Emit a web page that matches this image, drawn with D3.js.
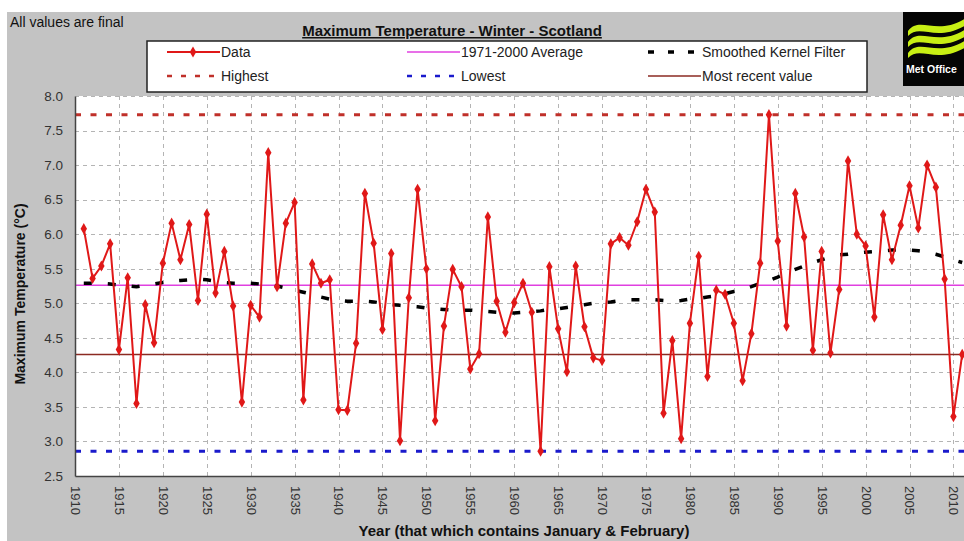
<!DOCTYPE html>
<html>
<head>
<meta charset="utf-8">
<script src="https://cdn.jsdelivr.net/npm/d3@7"></script>
<style>
  html, body { margin: 0; padding: 0; background: #ffffff; }
  svg { display: block; font-family: "Liberation Sans", Arial, sans-serif; }
</style>
</head>
<body>
<svg id="chart" width="964" height="541"></svg>
<script>
// Winter (Dec–Feb) maximum temperature, Scotland, °C — year containing Jan & Feb
const years = d3.range(1911, 2012);
const values = [
  6.08, 5.36, 5.54, 5.86, 4.33, 5.37, 3.55, 4.98, 4.43, 5.58,
  6.16, 5.63, 6.14, 5.04, 6.29, 5.15, 5.75, 4.96, 3.57, 4.97,
  4.80, 7.18, 5.24, 6.16, 6.46, 3.60, 5.57, 5.29, 5.34, 3.46,
  3.45, 4.42, 6.59, 5.87, 4.62, 5.72, 3.01, 5.08, 6.65, 5.50,
  3.30, 4.67, 5.49, 5.24, 4.05, 4.27, 6.25, 5.03, 4.58, 5.01,
  5.29, 4.87, 2.86, 5.53, 4.63, 4.01, 5.54, 4.66, 4.21, 4.17,
  5.86, 5.95, 5.84, 6.18, 6.65, 6.32, 3.41, 4.46, 3.04, 4.71,
  5.68, 3.94, 5.19, 5.13, 4.71, 3.88, 4.56, 5.58, 7.73, 5.90,
  4.67, 6.59, 5.96, 4.32, 5.75, 4.28, 5.20, 7.06, 6.00, 5.83,
  4.80, 6.28, 5.63, 6.13, 6.70, 6.09, 7.00, 6.68, 5.35, 3.36,
  4.26
];
// Smoothed kernel filter curve
const smoothed = [
  5.29, 5.29, 5.29, 5.28, 5.26, 5.25, 5.24, 5.26, 5.28, 5.30,
  5.32, 5.33, 5.34, 5.35, 5.34, 5.32, 5.30, 5.29, 5.29, 5.29,
  5.28, 5.27, 5.25, 5.22, 5.19, 5.16, 5.13, 5.09, 5.06, 5.04,
  5.03, 5.03, 5.03, 5.02, 5.00, 4.98, 4.97, 4.96, 4.95, 4.93,
  4.92, 4.91, 4.90, 4.90, 4.90, 4.89, 4.88, 4.87, 4.86, 4.86,
  4.87, 4.88, 4.89, 4.91, 4.92, 4.94, 4.96, 4.98, 5.00, 5.01,
  5.02, 5.04, 5.05, 5.05, 5.05, 5.05, 5.04, 5.03, 5.04, 5.06,
  5.07, 5.09, 5.11, 5.14, 5.17, 5.20, 5.24, 5.29, 5.33, 5.38,
  5.44, 5.49, 5.54, 5.59, 5.63, 5.67, 5.70, 5.71, 5.73, 5.74,
  5.75, 5.76, 5.77, 5.77, 5.77, 5.76, 5.74, 5.71, 5.67, 5.63,
  5.59
];
const average19712000 = 5.26;
const highest = 7.73;
const lowest = 2.86;
const mostRecent = 4.26;

const yTicks = [2.5, 3.0, 3.5, 4.0, 4.5, 5.0, 5.5, 6.0, 6.5, 7.0, 7.5, 8.0];
const xTicks = d3.range(1910, 2011, 5);

const svg = d3.select("#chart");
const W = 964, H = 541;
const plot = { left: 75, right: 971, top: 96, bottom: 476 };
const FONT = "Liberation Sans, Arial, sans-serif";

const x = d3.scaleLinear().domain([1910, 2012]).range([plot.left, plot.right]);
const y = d3.scaleLinear().domain([2.5, 8.0]).range([plot.bottom, plot.top]);

// Grey chart panel
svg.append("rect").attr("x", 7).attr("y", 12).attr("width", W).attr("height", H)
  .attr("fill", "#c3c3c3");

svg.append("text").attr("x", 10).attr("y", 27)
  .attr("font-size", 14).attr("fill", "#111").text("All values are final");

// Title
svg.append("text").attr("x", 452).attr("y", 36)
  .attr("text-anchor", "middle").attr("font-size", 15).attr("font-weight", "bold")
  .attr("fill", "#111").attr("text-decoration", "underline")
  .text("Maximum Temperature - Winter - Scotland");

// Plot area
svg.append("rect").attr("x", plot.left).attr("y", plot.top)
  .attr("width", plot.right - plot.left).attr("height", plot.bottom - plot.top)
  .attr("fill", "#ffffff");

// Grid
const grid = svg.append("g").attr("stroke", "#b4b4b4").attr("stroke-width", 1)
  .attr("stroke-dasharray", "4,4");
grid.selectAll("line.h").data(yTicks.filter(d => d > 2.5)).join("line")
  .attr("class", "h")
  .attr("x1", plot.left).attr("x2", plot.right)
  .attr("y1", d => Math.round(y(d)) + 0.5).attr("y2", d => Math.round(y(d)) + 0.5);
grid.selectAll("line.v").data(xTicks.filter(d => d > 1910)).join("line")
  .attr("class", "v")
  .attr("y1", plot.top).attr("y2", plot.bottom)
  .attr("x1", d => Math.round(x(d)) + 0.5).attr("x2", d => Math.round(x(d)) + 0.5);

// Reference lines
function hline(v, color, width, dash) {
  svg.append("line").attr("x1", plot.left).attr("x2", plot.right)
    .attr("y1", y(v)).attr("y2", y(v))
    .attr("stroke", color).attr("stroke-width", width)
    .attr("stroke-dasharray", dash || null);
}
hline(highest, "#c0302a", 3, "6,9.5");
hline(lowest, "#1a1acc", 3, "6,9.5");
hline(average19712000, "#e040e0", 1.5);
hline(mostRecent, "#8b2a22", 1.5);

// Smoothed kernel filter
const line = d3.line().x((d, i) => x(years[i])).y(d => y(d));
svg.append("path").datum(smoothed).attr("d", line)
  .attr("fill", "none").attr("stroke", "#000").attr("stroke-width", 3.5)
  .attr("stroke-dasharray", "8,16");

// Data series
svg.append("path").datum(values).attr("d", line)
  .attr("fill", "none").attr("stroke", "#e01818").attr("stroke-width", 2)
  .attr("stroke-linejoin", "round");
const diamond = d3.symbol().type(d3.symbolDiamond).size(36);
svg.append("g").selectAll("path").data(values).join("path")
  .attr("d", diamond)
  .attr("transform", (d, i) => `translate(${x(years[i])},${y(d)})`)
  .attr("fill", "#e01818");

// Axes
const yAxis = svg.append("g").attr("transform", `translate(${plot.left},0)`)
  .call(d3.axisLeft(y).tickValues(yTicks).tickFormat(d3.format(".1f")).tickSize(0).tickPadding(12));
yAxis.select(".domain").attr("stroke", "#444").attr("stroke-width", 1.5);
yAxis.selectAll("text").attr("font-size", 13.5).attr("fill", "#333")
  .attr("font-family", FONT);

const xAxis = svg.append("g").attr("transform", `translate(0,${plot.bottom})`)
  .call(d3.axisBottom(x).tickValues(xTicks).tickFormat(d3.format("d")).tickSize(0));
xAxis.select(".domain").attr("stroke", "#444").attr("stroke-width", 1.5);
xAxis.selectAll("text")
  .attr("font-size", 13).attr("fill", "#333")
  .attr("font-family", FONT)
  .attr("transform", "rotate(90)")
  .attr("text-anchor", "start").attr("dy", "0.35em").attr("x", 10).attr("y", 0);

// Axis titles
svg.append("text").attr("transform", "translate(25,294) rotate(-90)")
  .attr("text-anchor", "middle").attr("font-size", 14).attr("font-weight", "bold")
  .attr("fill", "#111").text("Maximum Temperature (°C)");
svg.append("text").attr("x", 524).attr("y", 536)
  .attr("text-anchor", "middle").attr("font-size", 15).attr("font-weight", "bold")
  .attr("fill", "#111").text("Year (that which contains January & February)");

// Legend
const lg = svg.append("g");
lg.append("rect").attr("x", 147).attr("y", 41).attr("width", 720).attr("height", 51)
  .attr("fill", "#fff").attr("stroke", "#222").attr("stroke-width", 1.5);
const legendItems = [
  { label: "Data", x: 167, row: 0, color: "#e01818", width: 2, dash: null, marker: true },
  { label: "1971-2000 Average", x: 407, row: 0, color: "#e040e0", width: 1.5, dash: null },
  { label: "Smoothed Kernel Filter", x: 648, row: 0, color: "#000", width: 3.5, dash: "6,14" },
  { label: "Highest", x: 167, row: 1, color: "#c0302a", width: 2.5, dash: "5,9" },
  { label: "Lowest", x: 407, row: 1, color: "#1a1acc", width: 2.5, dash: "5,9" },
  { label: "Most recent value", x: 648, row: 1, color: "#8b2a22", width: 1.5, dash: null }
];
legendItems.forEach(it => {
  const yy = 52 + it.row * 24;
  lg.append("line").attr("x1", it.x).attr("x2", it.x + 53).attr("y1", yy).attr("y2", yy)
    .attr("stroke", it.color).attr("stroke-width", it.width)
    .attr("stroke-dasharray", it.dash);
  if (it.marker) {
    lg.append("path").attr("d", diamond).attr("transform", `translate(${it.x + 26},${yy})`)
      .attr("fill", it.color);
  }
  lg.append("text").attr("x", it.x + 54).attr("y", yy + 5)
    .attr("font-size", 14).attr("fill", "#222").text(it.label);
});

// Met Office logo block
const logo = svg.append("g");
logo.append("rect").attr("x", 903).attr("y", 12).attr("width", 70).attr("height", 74)
  .attr("fill", "#050505");
const waveOffsets = [21, 32, 43];
waveOffsets.forEach(o => {
  const p = d3.path();
  p.moveTo(908, o + 10);
  p.bezierCurveTo(920, o - 6, 936, o + 16, 966, o - 3);
  p.lineTo(966, o + 4);
  p.bezierCurveTo(936, o + 22, 920, o + 2, 908, o + 15);
  p.closePath();
  logo.append("path").attr("d", p.toString()).attr("fill", "#c8ef14");
});
logo.append("text").attr("x", 906).attr("y", 73)
  .attr("font-size", 10.5).attr("font-weight", "bold").attr("fill", "#fff").text("Met Office");
</script>
</body>
</html>
